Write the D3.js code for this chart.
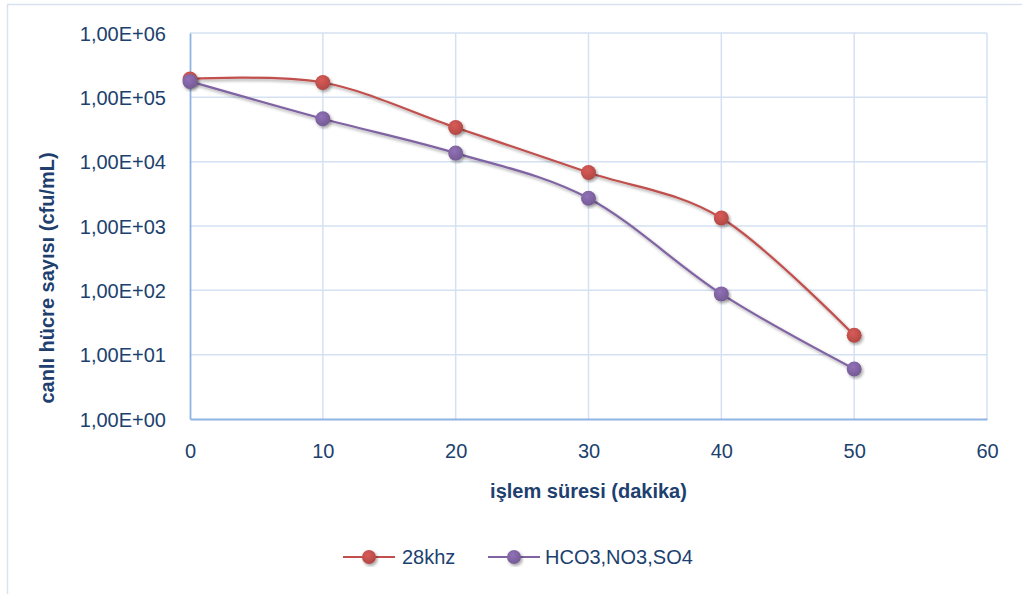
<!DOCTYPE html>
<html>
<head>
<meta charset="utf-8">
<script src="https://cdn.jsdelivr.net/npm/d3@7"></script>
<style>
  html, body { margin: 0; padding: 0; background: #fff; }
  svg { display: block; font-family: "Liberation Sans", Arial, sans-serif; }
</style>
</head>
<body>
<svg id="chart" width="1022" height="594"></svg>
<script>
// Treatment time (minutes)
const minutes = [0, 10, 20, 30, 40, 50];
// Viable cell counts (cfu/mL)
const series28khz = [193000, 170000, 34000, 6800, 1330, 20];
const seriesIons = [177000, 46500, 13600, 2700, 88, 6.0];
const seriesNames = ["28khz", "HCO3,NO3,SO4"];
const seriesColors = ["#C0504D", "#8064A2"];
const xTicks = [0, 10, 20, 30, 40, 50, 60];
const yTicks = [1, 10, 100, 1000, 10000, 100000, 1000000];
const yTickLabels = ["1,00E+00", "1,00E+01", "1,00E+02", "1,00E+03", "1,00E+04", "1,00E+05", "1,00E+06"];

const svg = d3.select("#chart");
const W = 1022, H = 594;
const plot = { left: 190, right: 987, top: 33, bottom: 419 };
const textColor = "#203F6E";

const defs = svg.append("defs");
const shadow = defs.append("filter").attr("id", "shadow")
  .attr("x", "-20%").attr("y", "-20%").attr("width", "140%").attr("height", "140%");
shadow.append("feDropShadow").attr("dx", 1.5).attr("dy", 2).attr("stdDeviation", 1.4)
  .attr("flood-color", "#000").attr("flood-opacity", 0.35);

seriesColors.forEach((c, i) => {
  const g = defs.append("radialGradient").attr("id", "mk" + i)
    .attr("cx", "40%").attr("cy", "35%").attr("r", "65%");
  g.append("stop").attr("offset", "0%").attr("stop-color", d3.color(c).brighter(0.35));
  g.append("stop").attr("offset", "100%").attr("stop-color", d3.color(c).darker(0.25));
});

// Outer chart frame
svg.append("rect").attr("x", 7.5).attr("y", 4.5).attr("width", W + 10).attr("height", H + 10)
  .attr("fill", "#fff").attr("stroke", "#D9E3F0").attr("stroke-width", 1.5);

const x = d3.scaleLinear().domain([0, 60]).range([plot.left, plot.right]);
const y = d3.scaleLog().domain([1, 1e6]).range([plot.bottom, plot.top]);

// Gridlines
const grid = svg.append("g");
grid.selectAll("line.h").data(yTicks.slice(1)).join("line")
  .attr("x1", plot.left).attr("x2", plot.right)
  .attr("y1", d => y(d)).attr("y2", d => y(d))
  .attr("stroke", "#D5E1F2").attr("stroke-width", 1.5);
grid.selectAll("line.v").data(xTicks.slice(1)).join("line")
  .attr("x1", d => x(d)).attr("x2", d => x(d))
  .attr("y1", plot.top).attr("y2", plot.bottom)
  .attr("stroke", "#D5E1F2").attr("stroke-width", 1.5);

// Axes
const xAxis = svg.append("g").attr("transform", `translate(0,${plot.bottom})`)
  .call(d3.axisBottom(x).tickValues(xTicks).tickSize(0).tickPadding(25).tickFormat(d3.format("d")));
const yAxis = svg.append("g").attr("transform", `translate(${plot.left},0)`)
  .call(d3.axisLeft(y).tickValues(yTicks).tickSize(0).tickPadding(24)
    .tickFormat((d, i) => yTickLabels[i]));
[xAxis, yAxis].forEach(a => {
  a.select(".domain").attr("stroke", "#8EB4E3").attr("stroke-width", 1.8);
  a.selectAll("text").attr("fill", textColor).attr("font-size", 20)
    .attr("font-family", "'Liberation Sans', Arial, sans-serif");
});
yAxis.selectAll("text").attr("dy", "0.36em");

// Axis titles
svg.append("text").attr("x", (plot.left + plot.right) / 2).attr("y", 498)
  .attr("text-anchor", "middle").attr("font-size", 20).attr("font-weight", "bold")
  .attr("fill", textColor).text("işlem süresi (dakika)");
svg.append("text").attr("transform", `translate(54,${278}) rotate(-90)`)
  .attr("text-anchor", "middle").attr("font-size", 20).attr("font-weight", "bold")
  .attr("fill", textColor).text("canlı hücre sayısı (cfu/mL)");

// Series
const lineGen = d3.line().x(d => x(d[0])).y(d => y(d[1])).curve(d3.curveCatmullRom.alpha(0));
const allSeries = [series28khz, seriesIons];
allSeries.forEach((vals, i) => {
  const pts = minutes.map((m, j) => [m, vals[j]]);
  const g = svg.append("g");
  g.append("path").datum(pts).attr("d", lineGen)
    .attr("fill", "none").attr("stroke", seriesColors[i]).attr("stroke-width", 2.2)
    .attr("filter", "url(#shadow)");
  g.selectAll("circle").data(pts).join("circle")
    .attr("cx", d => x(d[0])).attr("cy", d => y(d[1])).attr("r", 7.5)
    .attr("fill", `url(#mk${i})`).attr("filter", "url(#shadow)");
});

// Legend
const legendItems = [
  { x0: 343, tx: 402 },
  { x0: 488, tx: 545 }
];
const ly = 557;
legendItems.forEach((it, i) => {
  const g = svg.append("g");
  g.append("line").attr("x1", it.x0).attr("x2", it.x0 + 52).attr("y1", ly).attr("y2", ly)
    .attr("stroke", seriesColors[i]).attr("stroke-width", 2.2);
  g.append("circle").attr("cx", it.x0 + 26).attr("cy", ly).attr("r", 7)
    .attr("fill", `url(#mk${i})`).attr("filter", "url(#shadow)");
  g.append("text").attr("x", it.tx).attr("y", ly).attr("dy", "0.36em")
    .attr("font-size", 20).attr("fill", textColor).text(seriesNames[i]);
});
</script>
</body>
</html>
